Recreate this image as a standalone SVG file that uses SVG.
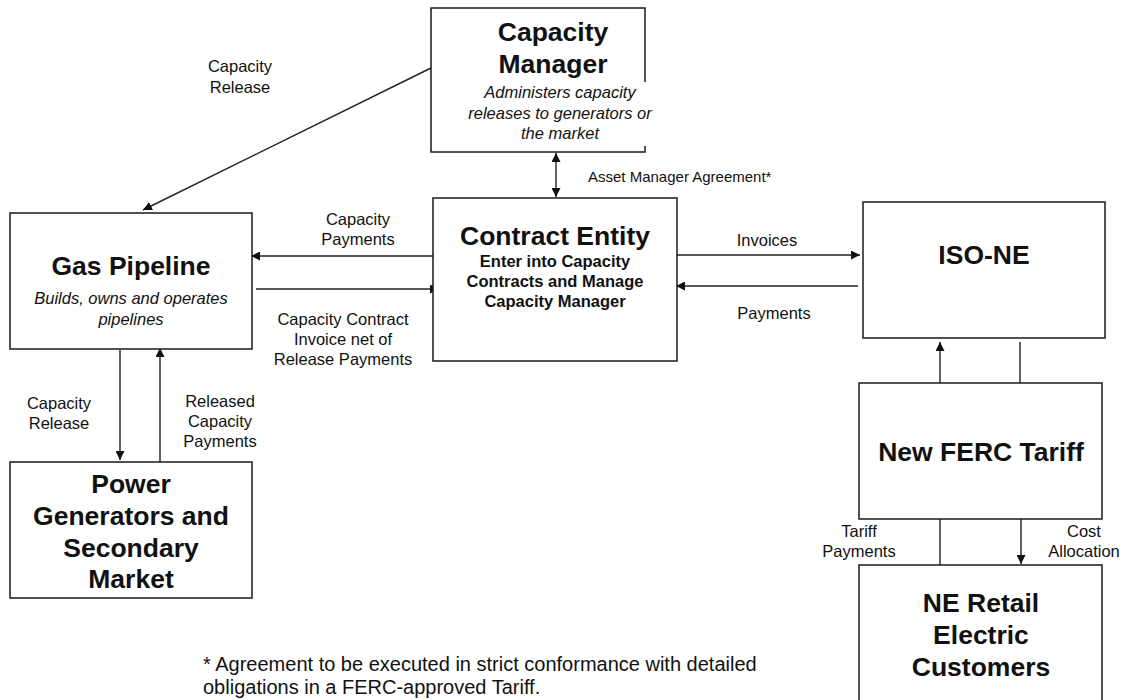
<svg xmlns="http://www.w3.org/2000/svg" width="1123" height="700" viewBox="0 0 1123 700">
<defs>
<marker id="ah" viewBox="0 0 10 10" refX="10" refY="5" markerWidth="9" markerHeight="9" markerUnits="userSpaceOnUse" orient="auto-start-reverse">
<path d="M0,0 L10,5 L0,10 z" fill="#111"/>
</marker>
<style>
.box{fill:#fff;stroke:#1a1a1a;stroke-width:1.5}
.t{font-family:"Liberation Sans",Arial,sans-serif;fill:#111;text-anchor:middle}
.h{font-size:26.5px;font-weight:bold}
.b{font-size:16.5px;font-weight:bold}
.i{font-size:16.5px;font-style:italic}
.l{font-size:16.5px}
.s{font-size:15px}
.f{font-size:20px;text-anchor:start}
.c{fill:none;stroke:#222;stroke-width:1.4}
</style>
</defs>
<rect width="1123" height="700" fill="#fff"/>

<g id="connectors">
<line class="c" x1="431" y1="68" x2="143" y2="210" marker-end="url(#ah)"/>
<line class="c" x1="556" y1="153" x2="556" y2="197" marker-start="url(#ah)" marker-end="url(#ah)"/>
<line class="c" x1="433" y1="256" x2="251" y2="256" marker-end="url(#ah)"/>
<line class="c" x1="256" y1="289" x2="439" y2="289" marker-end="url(#ah)"/>
<line class="c" x1="677" y1="255" x2="860" y2="255" marker-end="url(#ah)"/>
<line class="c" x1="858" y1="286" x2="676" y2="286" marker-end="url(#ah)"/>
<line class="c" x1="120" y1="350" x2="120" y2="460" marker-end="url(#ah)"/>
<line class="c" x1="160" y1="462" x2="160" y2="348" marker-end="url(#ah)"/>
<line class="c" x1="940" y1="383" x2="940" y2="342" marker-end="url(#ah)"/>
<line class="c" x1="1020" y1="342" x2="1020" y2="383"/>
<line class="c" x1="940" y1="519" x2="940" y2="565"/>
<line class="c" x1="1021" y1="519" x2="1021" y2="564" marker-end="url(#ah)"/>
<text class="t l" x="240" y="72">Capacity</text>
<text class="t l" x="240" y="93">Release</text>
<text class="t s" x="588" y="182" style="text-anchor:start">Asset Manager Agreement*</text>
<text class="t l" x="358" y="225">Capacity</text>
<text class="t l" x="358" y="245">Payments</text>
<text class="t l" x="343" y="325">Capacity Contract</text>
<text class="t l" x="343" y="345">Invoice net of</text>
<text class="t l" x="343" y="365">Release Payments</text>
<text class="t l" x="767" y="246">Invoices</text>
<text class="t l" x="774" y="319">Payments</text>
<text class="t l" x="59" y="409">Capacity</text>
<text class="t l" x="59" y="429">Release</text>
<text class="t l" x="220" y="407">Released</text>
<text class="t l" x="220" y="427">Capacity</text>
<text class="t l" x="220" y="447">Payments</text>
<text class="t l" x="859" y="537">Tariff</text>
<text class="t l" x="859" y="557">Payments</text>
<text class="t l" x="1084" y="537">Cost</text>
<text class="t l" x="1084" y="557">Allocation</text>
</g>

<g id="capacity-manager">
<rect class="box" x="431" y="8" width="214" height="144"/>
<rect x="463" y="82" width="196" height="64" fill="#fff"/>
<text class="t h" x="553" y="41">Capacity</text>
<text class="t h" x="553" y="73">Manager</text>
<text class="t i" x="560" y="98">Administers capacity</text>
<text class="t i" x="560" y="119">releases to generators or</text>
<text class="t i" x="560" y="139">the market</text>
</g>

<g id="gas-pipeline">
<rect class="box" x="10" y="213" width="242" height="136"/>
<text class="t h" x="131" y="275">Gas Pipeline</text>
<text class="t i" x="131" y="304">Builds, owns and operates</text>
<text class="t i" x="131" y="325">pipelines</text>
</g>

<g id="contract-entity">
<rect class="box" x="433" y="198" width="244" height="163"/>
<text class="t h" x="555" y="245">Contract Entity</text>
<text class="t b" x="555" y="267">Enter into Capacity</text>
<text class="t b" x="555" y="287">Contracts and Manage</text>
<text class="t b" x="555" y="307">Capacity Manager</text>
</g>

<g id="iso-ne">
<rect class="box" x="863" y="202" width="242" height="136"/>
<text class="t h" x="984" y="264">ISO-NE</text>
</g>

<g id="power-generators">
<rect class="box" x="10" y="462" width="242" height="136"/>
<text class="t h" x="131" y="493">Power</text>
<text class="t h" x="131" y="525">Generators and</text>
<text class="t h" x="131" y="557">Secondary</text>
<text class="t h" x="131" y="588">Market</text>
</g>

<g id="new-ferc-tariff">
<rect class="box" x="859" y="383" width="243" height="136"/>
<text class="t h" x="981" y="461">New FERC Tariff</text>
</g>

<g id="ne-retail">
<rect class="box" x="859" y="565" width="243" height="150"/>
<text class="t h" x="981" y="612">NE Retail</text>
<text class="t h" x="981" y="644">Electric</text>
<text class="t h" x="981" y="676">Customers</text>
</g>

<g id="footnote">
<text class="t f" x="203" y="671">* Agreement to be executed in strict conformance with detailed</text>
<text class="t f" x="203" y="694">obligations in a FERC-approved Tariff.</text>
</g>
</svg>
